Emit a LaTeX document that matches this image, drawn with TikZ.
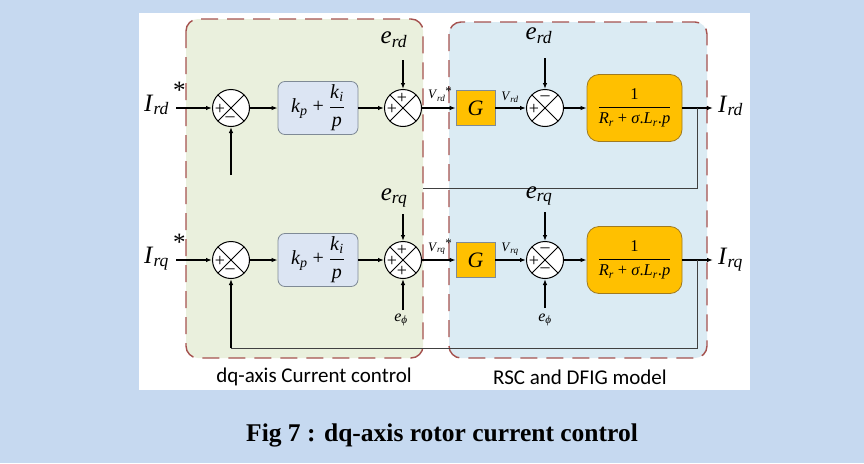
\documentclass[tikz,border=0pt]{standalone}
\usepackage{fontspec}
\setmainfont{Liberation Serif}
\newfontfamily\labelfont{Carlito}
\usetikzlibrary{arrows.meta}
\definecolor{pagebg}{HTML}{C6D9F0}
\definecolor{greenfill}{HTML}{EAF0DD}
\definecolor{bluefill}{HTML}{DBEBF3}
\definecolor{dashred}{HTML}{A5524F}
\definecolor{pifill}{HTML}{DCE5F3}
\definecolor{boxgray}{HTML}{7F8A96}
\definecolor{gold}{HTML}{FFC000}
\definecolor{plantedge}{HTML}{A07A20}
\definecolor{fbgray}{HTML}{404040}
\newcommand{\vsub}[2]{\textit{#1}\textsubscript{\textit{#2}}}
\begin{document}
\begin{tikzpicture}[x=1pt,y=-1pt,
  region/.style={draw=dashred,line width=1.4pt,dash pattern=on 17pt off 9pt,rounded corners=12pt},
  sumnode/.style={circle,draw,line width=1pt,fill=white,minimum size=37pt,inner sep=0pt,
    path picture={\draw[line width=1pt] (path picture bounding box.north west) -- (path picture bounding box.south east)
      (path picture bounding box.north east) -- (path picture bounding box.south west);}},
  sgn/.style={font=\fontsize{18}{18}\selectfont,inner sep=0pt},
  pibox/.style={draw=boxgray,fill=pifill,rounded corners=7pt,minimum width=80pt,minimum height=50pt,line width=0.8pt,font=\fontsize{20}{22}\selectfont},
  gbox/.style={draw=boxgray,fill=gold,minimum width=39pt,minimum height=35pt,line width=0.6pt,font=\fontsize{22}{22}\selectfont},
  plantbox/.style={draw=plantedge,fill=gold,rounded corners=12pt,minimum width=95pt,minimum height=67pt,line width=0.8pt,font=\fontsize{16.5}{18}\selectfont},
  sig/.style={line width=1.2pt,-{Latex[length=6pt,width=4.5pt]}},
  fb/.style={line width=0.8pt,draw=fbgray},
  biglab/.style={font=\fontsize{25}{25}\selectfont,inner sep=0pt},
  elab/.style={font=\fontsize{25}{25}\selectfont,inner sep=0pt},
  philab/.style={font=\fontsize{16}{16}\selectfont,inner sep=0pt},
  vlab/.style={font=\fontsize{13}{13}\selectfont,inner sep=0pt},
  boxlab/.style={font=\labelfont\fontsize{21}{21}\selectfont}]
\useasboundingbox (0,0) rectangle (864,463);
\fill[pagebg] (0,0) rectangle (864,463);
\fill[white] (139,13) rectangle (750,390);
% the two dashed regions
\draw[region,fill=greenfill] (186,19) rectangle (423,358);
\draw[region,fill=bluefill] (449,22) rectangle (707,358);
\node[boxlab] (lab1) at (314,377) {dq-axis Current control};
\node[boxlab] (lab2) at (580,377) {RSC and DFIG model};

% d-axis row
\node[sumnode] (s1) at (231,108) {};
\node[pibox] (pi1) at (318,108) {$\mbox{\vsub{k}{p} + }\displaystyle\frac{\mbox{\vsub{k}{i}}}{\mbox{\textit{p}}}$};
\node[sumnode] (s2) at (403,108) {};
\node[gbox] (g1) at (475.5,108) {\textit{G}};
\node[sumnode] (s3) at (545,108) {};
\node[plantbox] (pl1) at (634.5,108) {$\displaystyle\frac{\mbox{1}}{\mbox{\vsub{R}{r} + \textit{σ}.\vsub{L}{r}.\textit{p}}}$};
\node[biglab,anchor=base west] (irdin) at (144,111) {\vsub{I}{rd}\,\raisebox{1.1ex}{*}};
\node[biglab,anchor=base west] (irdout) at (718,112) {\vsub{I}{rd}};
\node[elab] (erd1) at (394,40) {\vsub{e}{rd}};
\node[elab] (erd2) at (539,36) {\vsub{e}{rd}};
\node[vlab] (vrdref) at (440,94) {\vsub{V}{rd}\raisebox{0.6ex}{*}};
\node[vlab] (vrd) at (510,97) {\vsub{V}{rd}};
\coordinate (in1) at (176,108);
\coordinate (out1) at (713,108);
\coordinate (br1) at (697,108);
\coordinate (fb1) at (423,188);
\coordinate (up1) at (231,175);
\draw[sig] (in1) -- (s1);
\draw[sig] (s1) -- (pi1);
\draw[sig] (pi1) -- (s2);
\draw[sig] (s2) -- (g1);
\draw[sig] (g1) -- (s3);
\draw[sig] (s3) -- (pl1);
\draw[sig] (pl1) -- (out1);
\draw[sig] ([yshift=-20pt]erd1.center -| s2) -- (s2);
\draw[sig] ([yshift=-22pt]erd2.center -| s3) -- (s3);
\draw[fb] (br1) |- (fb1);
\draw[sig] (up1) -- (s1);
\node[sgn] at ([shift={(-11,1)}]s1.center) {+};
\node[sgn] at ([shift={(-1,11)}]s1.center) {–};
\node[sgn] at ([shift={(-1,-10)}]s2.center) {+};
\node[sgn] at ([shift={(-11,1)}]s2.center) {+};
\node[sgn] at ([shift={(0,-10)}]s3.center) {–};
\node[sgn] at ([shift={(-11,1)}]s3.center) {+};

% q-axis row
\node[sumnode] (s4) at (231,260) {};
\node[pibox] (pi2) at (318,260) {$\mbox{\vsub{k}{p} + }\displaystyle\frac{\mbox{\vsub{k}{i}}}{\mbox{\textit{p}}}$};
\node[sumnode] (s5) at (403,260) {};
\node[gbox] (g2) at (475.5,260) {\textit{G}};
\node[sumnode] (s6) at (545,260) {};
\node[plantbox] (pl2) at (634.5,260) {$\displaystyle\frac{\mbox{1}}{\mbox{\vsub{R}{r} + \textit{σ}.\vsub{L}{r}.\textit{p}}}$};
\node[biglab,anchor=base west] (irqin) at (144,263) {\vsub{I}{rq}\,\raisebox{1.1ex}{*}};
\node[biglab,anchor=base west] (irqout) at (718,264) {\vsub{I}{rq}};
\node[elab] (erq1) at (394,198) {\vsub{e}{rq}};
\node[elab] (erq2) at (539,196) {\vsub{e}{rq}};
\node[philab] (ephi1) at (401,320) {\vsub{e}{ϕ}};
\node[philab] (ephi2) at (545,320) {\vsub{e}{ϕ}};
\node[vlab] (vrqref) at (440,247) {\vsub{V}{rq}\raisebox{0.6ex}{*}};
\node[vlab] (vrq) at (510,249) {\vsub{V}{rq}};
\coordinate (in2) at (176,260);
\coordinate (out2) at (713,260);
\coordinate (br2) at (697,260);
\coordinate (fb2) at (231,348);
\draw[sig] (in2) -- (s4);
\draw[sig] (s4) -- (pi2);
\draw[sig] (pi2) -- (s5);
\draw[sig] (s5) -- (g2);
\draw[sig] (g2) -- (s6);
\draw[sig] (s6) -- (pl2);
\draw[sig] (pl2) -- (out2);
\draw[sig] ([yshift=-16pt]erq1.center -| s5) -- (s5);
\draw[sig] ([yshift=-16pt]erq2.center -| s6) -- (s6);
\draw[sig] ([yshift=10pt]ephi1.center -| s5) -- (s5);
\draw[sig] ([yshift=12pt]ephi2.center -| s6) -- (s6);
\draw[fb] (br2) |- (fb2);
\draw[sig] (fb2) -- (s4);
\node[sgn] at ([shift={(-11,1)}]s4.center) {+};
\node[sgn] at ([shift={(-1,11)}]s4.center) {–};
\node[sgn] at ([shift={(-1,-10)}]s5.center) {+};
\node[sgn] at ([shift={(-11,1)}]s5.center) {+};
\node[sgn] at ([shift={(-1,11)}]s5.center) {+};
\node[sgn] at ([shift={(0,-10)}]s6.center) {–};
\node[sgn] at ([shift={(-11,1)}]s6.center) {+};
\node[sgn] at ([shift={(0,10)}]s6.center) {–};

\node[font=\bfseries\fontsize{25.5}{25.5}\selectfont] (cap) at (442,435) {Fig 7 : dq-axis rotor current control};
\end{tikzpicture}
\end{document}
